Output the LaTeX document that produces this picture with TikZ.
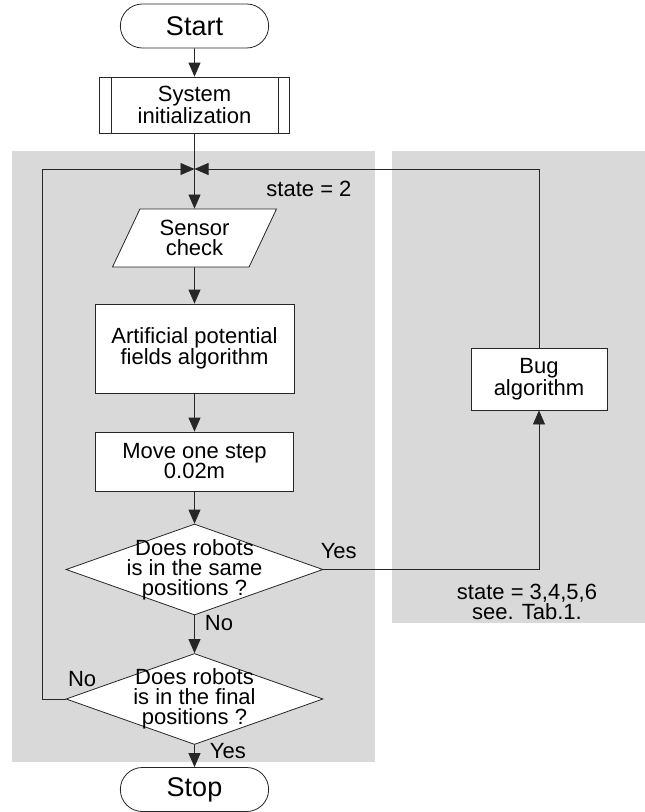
\documentclass[tikz,border=0pt]{standalone}
\usepackage{fontspec}
\setmainfont{Liberation Sans}
\usetikzlibrary{shapes.geometric,shapes.misc,arrows.meta}
\definecolor{panelgray}{HTML}{D9D9D9}
\definecolor{linegray}{HTML}{262626}
\begin{document}
\begin{tikzpicture}[x=1pt,y=-1pt,
  every node/.style={font=\fontsize{22pt}{20pt}\selectfont},
  box/.style={draw=linegray,fill=white,align=center,line width=0.8pt},
  terminal/.style={box,rounded rectangle,minimum width=155pt,minimum height=44pt,font=\fontsize{27pt}{27pt}\selectfont},
  decision/.style={box,diamond,inner sep=0pt,minimum width=257pt,minimum height=91pt},
  flow/.style={draw=linegray,line width=0.8pt,-{Triangle[length=14pt,width=12pt]}},
  lbl/.style={inner sep=0pt}]
\useasboundingbox (0,0) rectangle (645,812);
\fill[white] (0,0) rectangle (645,812);
\fill[panelgray] (12,151) rectangle (375,762);
\fill[panelgray] (392,151) rectangle (645,623);
\node[terminal] (start) at (194.5,26) {Start};
\node[box,minimum width=190pt,minimum height=56pt] (init) at (194.5,105) {System\\initialization};
\draw[linegray,line width=0.8pt] ([xshift=12pt]init.north west) -- ([xshift=12pt]init.south west)
  ([xshift=-12pt]init.north east) -- ([xshift=-12pt]init.south east);
\coordinate (join) at (194.5,169);
\coordinate (lft) at (42,169);
\node[anchor=base east] (st2) at (355,196) {state = 2};
\node[box,trapezium,trapezium left angle=57,trapezium right angle=123,trapezium stretches body,
  minimum width=164pt,minimum height=58pt] (sensor) at (194.5,238) {Sensor\\check};
\node[box,minimum width=199pt,minimum height=89pt] (apf) at (194.5,348.5) {Artificial potential\\fields algorithm};
\node[box,minimum width=198pt,minimum height=59pt] (move) at (194.5,461.5) {Move one step\\0.02m};
\node[decision,label={[align=center]center:Does robots\\is in the same\\positions ?}] (same) at (194.5,569.5) {};
\node[decision,label={[align=center]center:Does robots\\is in the final\\positions ?}] (final) at (194.5,699) {};
\node[terminal] (stop) at (194.5,789.5) {Stop};
\node[box,minimum width=136pt,minimum height=62pt] (bug) at (539,379) {Bug\\algorithm};
\node[align=center] (st3) at (527,601.5) {state = 3,4,5,6\\see. Tab.1.};
\draw[flow] (start) -- (init);
\draw[flow] (init) -- (sensor);
\draw[flow] (sensor) -- (apf);
\draw[flow] (apf) -- (move);
\draw[flow] (move) -- (same);
\draw[flow] (same) -- node[lbl,right,pos=0.2,xshift=10pt]{No} (final);
\draw[flow] (final) -- node[lbl,right,pos=0.26,xshift=15pt]{Yes} (stop);
\draw[flow] (same.east) node[lbl,above right,xshift=-3pt,yshift=10pt]{Yes} -| (bug);
\draw[flow] (bug) |- (join);
\draw[flow] (final.west) node[lbl,above right,xshift=2pt,yshift=12pt]{No} -| (lft) -- (join);
\end{tikzpicture}
\end{document}
